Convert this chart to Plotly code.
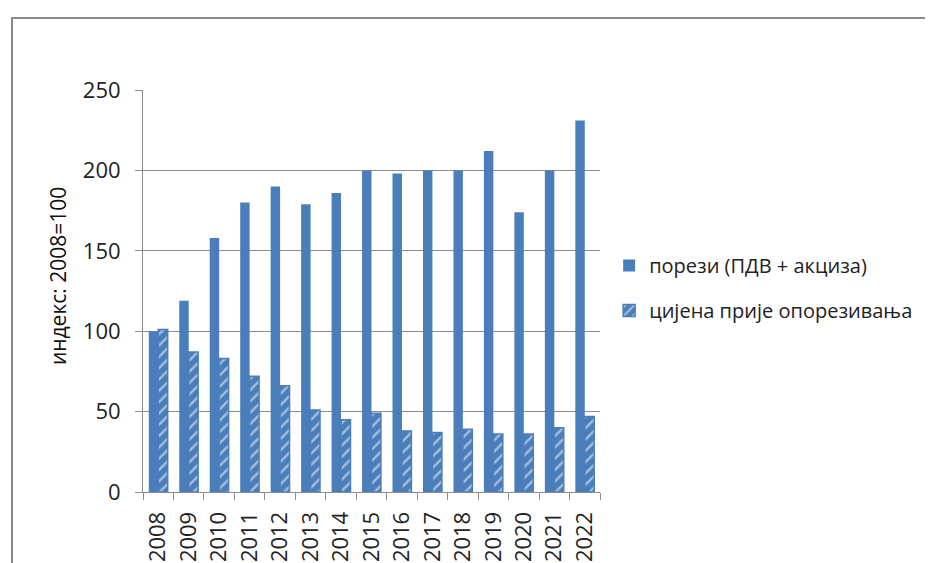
import plotly.graph_objects as go

years = ["2008", "2009", "2010", "2011", "2012", "2013", "2014", "2015",
         "2016", "2017", "2018", "2019", "2020", "2021", "2022"]
taxes = [100, 119, 158, 180, 190, 179, 186, 200, 198, 200, 200, 212, 174, 200, 231]
price = [101, 87, 83, 72, 66, 51, 45, 49, 38, 37, 39, 36, 36, 40, 47]

name_taxes = "порези (ПДВ + акциза)"
name_price = "цијена прије опорезивања"
y_title = "индекс: 2008=100"

BLUE = "#4A7EBB"
FONT = "Open Sans"

fig = go.Figure()
fig.add_trace(go.Bar(x=years, y=taxes, name=name_taxes, legendgroup="a",
                     marker=dict(color=BLUE, line=dict(width=0))))
fig.add_trace(go.Bar(x=years, y=price, name=name_price, legendgroup="b",
                     marker=dict(color=BLUE, line=dict(color=BLUE, width=1.5),
                                 pattern=dict(shape="/", fgcolor="white", bgcolor=BLUE,
                                              size=8, solidity=0.3, fillmode="overlay"))))

# page has an 8px body margin, so the figure is offset by 8px
fig.update_layout(
    width=925, height=555,
    margin=dict(l=135, r=333, t=82, b=71),
    paper_bgcolor="white", plot_bgcolor="white",
    barmode="group", bargap=0.38, bargroupgap=0.0,
    font=dict(family=FONT, color="#222", size=20),
    showlegend=True,
    legend=dict(x=1.02, y=0.612, xanchor="left", yanchor="top",
                font=dict(family=FONT, size=20, color="#222"),
                tracegroupgap=16, traceorder="grouped", bgcolor="rgba(0,0,0,0)"),
    xaxis=dict(type="category", tickangle=-90, showgrid=False, automargin=False,
               showline=True, linecolor="#8c8c8c", linewidth=1,
               ticks="outside", tickson="boundaries", ticklen=7, tickcolor="#8c8c8c",
               ticklabelstandoff=10,
               tickfont=dict(family=FONT, size=22, color="#222")),
    yaxis=dict(range=[0, 250], dtick=50, showgrid=True, gridcolor="#8c8c8c", gridwidth=1,
               showline=True, linecolor="#8c8c8c", linewidth=1, automargin=False,
               ticks="outside", ticklen=7, tickcolor="#8c8c8c", zeroline=False,
               ticklabelstandoff=10,
               tickfont=dict(family=FONT, size=22, color="#222")),
    annotations=[
        dict(text=y_title, xref="paper", yref="paper", x=-0.186, y=0.537,
             textangle=-90, showarrow=False, xanchor="center", yanchor="middle",
             font=dict(family=FONT, size=21, color="#111")),
    ],
    shapes=[
        dict(type="rect", xref="paper", yref="paper",
             x0=(4 - 135) / 457, x1=2.0, y0=-0.5, y1=(484 - 10) / 402,
             line=dict(color="#8a8a8a", width=2), fillcolor="rgba(0,0,0,0)", layer="below"),
    ],
)

fig.write_html("out.html")
